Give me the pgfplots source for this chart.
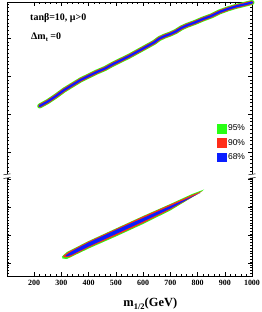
\documentclass[border=0pt]{standalone}
\usepackage{fontspec}
\setmainfont{Liberation Serif}
\newfontfamily\arial{Liberation Sans}
\usepackage{pgfplots}
\usepackage{pgfplotstable}
\pgfplotsset{compat=1.18}
\definecolor{cgreen}{RGB}{40,255,20}
\definecolor{cred}{RGB}{255,45,25}
\definecolor{cblue}{RGB}{10,30,255}
\pgfplotstableread{
x y
220 170
250 174.5
280 180
310 186
340 191
370 196
400 200
430 204
460 207.5
490 212
520 216
550 220
580 224.5
610 229
640 233.5
660 237.5
680 240
700 242
720 244.5
740 248
760 250.5
790 253.5
820 257
850 260
880 264
910 267
940 269.5
970 271.5
1000 273.5
}\upperband
\newcommand{\brk}[1]{%
  \fill[white] (rel axis cs:#1,0.365) ++(-3bp,-1.6bp) rectangle ++(6bp,3.2bp);
  \draw[line width=0.5pt] (rel axis cs:#1,0.365) ++(-3.5bp,-2.5bp) .. controls ++(2bp,1.5bp) and ++(-2bp,-1.5bp) .. ++(7bp,1bp);
  \draw[line width=0.5pt] (rel axis cs:#1,0.365) ++(-3.5bp,1.2bp) .. controls ++(2bp,1.5bp) and ++(-2bp,-1.5bp) .. ++(7bp,1bp);
}
\begin{document}
\begin{tikzpicture}
\path[use as bounding box] (-7bp,-36bp) rectangle (255bp,276bp);
\begin{axis}[
  at={(0,0)}, anchor=origin,
  scale only axis, width=245bp, height=274bp,
  xmin=100, xmax=1000, ymin=0, ymax=274,
  clip=false,
  axis line style={line width=0.6pt},
  xtick={200,300,...,1000},
  minor x tick num=4,
  ytick={13,41,69,97,124,162,200,238},
  yticklabels={},
  minor ytick={0,2.8,...,101,105,108.8,...,274},
  tick align=inside,
  tick pos=both,
  major tick length=4bp,
  minor tick length=2bp,
  tick style={line width=0.4pt,black},
  /pgf/number format/assume math mode=true,
  /pgf/number format/set thousands separator={},
  xticklabel style={font=\bfseries\fontsize{8}{9}\selectfont, yshift=-1bp},
  legend style={at={(rel axis cs:0.855,0.56)}, anchor=north west, draw=none, fill=none,
     font=\arial\fontsize{8.5}{9}\selectfont, row sep=3bp, inner sep=0pt},
  legend cell align=left,
]
\addlegendimage{legend image code/.code={\fill[cgreen] (0bp,-4.3bp) rectangle (9bp,4.5bp);}}
\addlegendentry{95\%}
\addlegendimage{legend image code/.code={\fill[cred] (0bp,-4.3bp) rectangle (9bp,4.5bp);}}
\addlegendentry{90\%}
\addlegendimage{legend image code/.code={\fill[cblue] (0bp,-4.3bp) rectangle (9bp,4.5bp);}}
\addlegendentry{68\%}

\addplot[cgreen, line width=5bp, line cap=round, line join=round, forget plot] table {\upperband};
\addplot[cred, line width=3.6bp, line cap=round, line join=round, forget plot] table {\upperband};
\addplot[cblue, line width=2.2bp, line cap=round, line join=round, forget plot] table {\upperband};

\addplot[fill=cgreen, draw=none, forget plot] coordinates {
(302,19.5) (320,24) (400,35) (500,47.5) (600,60) (700,72) (780,82) (824,86.5)
(812,84) (700,65.5) (600,52) (500,39.5) (400,27.5) (320,17) (304,17.5)} --cycle;
\addplot[fill=cred, draw=none, forget plot] coordinates {
(306,20) (325,24) (400,34.5) (500,47) (600,59.5) (700,71.5) (780,81) (818,85)
(800,82) (700,66.5) (600,53) (500,40.5) (400,28.5) (330,19) (310,18.5)} --cycle;
\addplot[fill=cblue, draw=none, forget plot] coordinates {
(315,20.5) (340,25) (400,33.5) (500,46) (600,58) (700,70) (780,79.5) (810,83)
(780,79) (700,67.5) (600,54.5) (500,42) (400,29.5) (340,21.5) (320,19.5)} --cycle;

\brk{0}
\brk{1}

\node[anchor=west, font=\bfseries\fontsize{10}{11}\selectfont, inner sep=0pt] at (rel axis cs:0.094,0.943) {tanβ=10, μ>0};
\node[anchor=west, font=\bfseries\fontsize{10}{11}\selectfont, inner sep=0pt] at (rel axis cs:0.098,0.872) {Δm\raisebox{-0.45ex}{\fontsize{6.5}{7}\selectfont t} =0};
\node[font=\bfseries\fontsize{12.5}{14}\selectfont, inner sep=0pt] at (rel axis cs:0.585,-0.1) {m\raisebox{-0.5ex}{\fontsize{8.5}{9}\selectfont 1/2}(GeV)};
\end{axis}
\end{tikzpicture}
\end{document}
